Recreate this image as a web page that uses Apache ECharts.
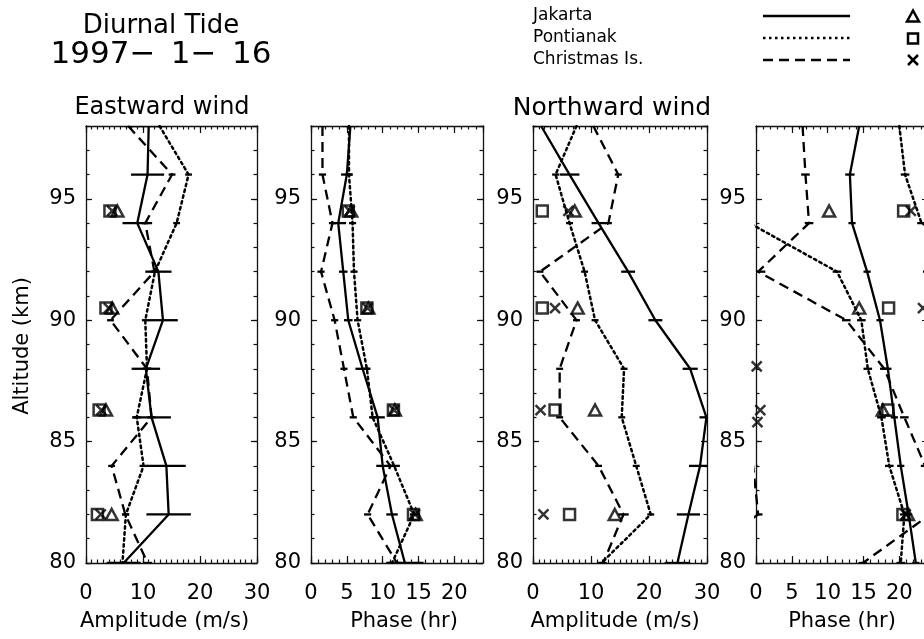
<!DOCTYPE html>
<html><head><meta charset="utf-8">
<script src="https://cdn.jsdelivr.net/npm/echarts@6/dist/echarts.min.js"></script>
<style>html,body{margin:0;padding:0;background:#fff}#c{width:924px;height:639px}</style>
</head><body><div id="c"></div>
<script>
// ---------- data ----------
const altitudes = [98, 96, 94, 92, 90, 88, 86, 84, 82, 80];
const symAlt = [94.5, 90.5, 86.3, 82.0];
const xTicksAmp = [0, 10, 20, 30];
const xTicksPha = [0, 5, 10, 15, 20];
const yTicks = [80, 85, 90, 95];

// Eastward wind amplitude (m/s)
const eAmpJak = [11.0, 10.8, 9.0, 12.7, 13.5, 10.5, 11.5, 14.1, 14.5, 6.6];
const eAmpJakErr = [3.0, 2.9, 2.6, 2.3, 2.6, 2.5, 3.4, 3.4, 3.9, 3.0];
const eAmpPon = [12.9, 18.0, 15.9, 12.1, 10.4, 10.7, 8.9, 10.1, 7.0, 6.4];
const eAmpPonErr = [0.6, 0.6, 0.6, 0.6, 0.6, 0.7, 0.7, 0.7, 0.6, 0.6];
const eAmpChr = [7.4, 15.1, 10.4, 12.0, 4.3, 10.7, 11.5, 4.5, 6.9, 10.8];
const eAmpChrErr = [0.7, 0.6, 0.6, 0.7, 0.6, 0.8, 0.7, 0.6, 0.6, 0.8];
const eAmpSymJak = [5.5, 4.6, 3.5, 4.5];
const eAmpSymPon = [4.2, 3.5, 2.3, 2.0];
const eAmpSymChr = [4.6, 4.0, 2.7, 2.6];

// Eastward wind phase (hr)
const ePhaJak = [5.5, 5.0, 3.8, 4.5, 5.2, 7.2, 9.3, 10.0, 11.3, 13.1];
const ePhaJakErr = [1.2, 0.8, 1.1, 0.6, 0.6, 1.0, 1.0, 0.9, 0.8, 2.6];
const ePhaPon = [5.3, 5.3, 5.8, 6.0, 6.5, 7.8, 8.6, 11.6, 14.4, 11.3];
const ePhaPonErr = [0.5, 0.5, 0.5, 0.5, 0.5, 0.5, 0.5, 0.8, 0.6, 0.5];
const ePhaChr = [1.6, 1.6, 3.0, 1.4, 3.3, 4.6, 5.9, 11.1, 7.9, 12.0];
const ePhaChrErr = [0.5, 0.5, 0.5, 0.5, 0.5, 0.5, 0.5, 0.5, 0.5, 0.5];
const ePhaSymJak = [5.6, 8.0, 11.7, 14.6];
const ePhaSymPon = [5.2, 7.8, 11.5, 14.3];
const ePhaSymChr = [5.4, 7.9, 11.6, 14.5];

// Northward wind amplitude (m/s)
const nAmpJak = [1.4, 6.3, 11.3, 16.4, 21.1, 27.1, 29.9, 28.8, 26.8, 24.9];
const nAmpJakErr = [1.4, 1.7, 1.2, 1.2, 1.2, 1.3, 1.2, 1.9, 2.0, 2.2];
const nAmpPon = [7.5, 3.9, 6.3, 8.9, 10.7, 15.7, 15.3, 17.8, 20.3, 11.8];
const nAmpPonErr = [0.6, 0.6, 0.6, 0.6, 0.6, 0.6, 0.6, 0.6, 0.6, 0.6];
const nAmpChr = [10.4, 14.7, 13.0, 1.2, 7.5, 4.6, 4.6, 11.3, 15.6, 12.1];
const nAmpChrErr = [0.6, 0.6, 0.6, 0.6, 0.6, 0.6, 0.6, 0.6, 0.9, 0.6];
const nAmpSymJak = [7.2, 7.7, 10.7, 14.1];
const nAmpSymPon = [1.6, 1.6, 3.8, 6.3];
const nAmpSymChr = [6.1, 3.8, 1.3, 1.8];

// Northward wind phase (hr), continuous across the 24 h wrap
const nPhaJak = [14.4, 13.1, 13.4, 15.5, 17.3, 18.4, 19.3, 20.2, 21.3, 22.3];
const nPhaJakErr = [0.5, 0.65, 0.5, 0.5, 0.5, 0.5, 0.5, 0.5, 0.5, 0.5];
const nPhaPon = [-4.0, -3.2, -0.9, 11.3, 14.7, 15.6, 17.5, 18.6, 20.7, 20.2];
const nPhaPonErr = [0.6, 0.6, 0.6, 0.6, 0.6, 0.6, 0.6, 0.6, 0.6, 0.6];
const nPhaChr = [6.5, 6.9, 7.4, 0.3, 12.6, 17.9, 20.7, 23.6, 24.3, 14.9];
const nPhaChrErr = [0.6, 0.6, 0.6, 1.0, 0.6, 0.6, 0.6, 0.6, 0.6, 0.6];
const nPhaSymJak = [10.2, 14.4, 17.7, 21.2];
const nPhaSymPon = [20.6, 18.5, 18.4, 20.5];
const nPhaSymChr = [21.6, 23.3, 0.6, 20.9];
const nPhaSymChrExtra = [[0.1, 88.1], [0.2, 85.8]];

const stations = ['Jakarta', 'Pontianak', 'Christmas Is.'];

// ---------- layout / style ----------
const FONT = 'DejaVu Sans';
const TOP = 126, HEIGHT = 437;
const panels = [
  {left: 86,  width: 171, max: 30, major: 10, ticks: xTicksAmp, wrap: false, name: 'Amplitude (m/s)', nameShift: -7,
   lines: [[eAmpJak, eAmpJakErr], [eAmpPon, eAmpPonErr], [eAmpChr, eAmpChrErr]], syms: [eAmpSymJak, eAmpSymPon, eAmpSymChr]},
  {left: 311, width: 172, max: 24, major: 5, ticks: xTicksPha, wrap: true, name: 'Phase (hr)', nameShift: 7,
   lines: [[ePhaJak, ePhaJakErr], [ePhaPon, ePhaPonErr], [ePhaChr, ePhaChrErr]], syms: [ePhaSymJak, ePhaSymPon, ePhaSymChr]},
  {left: 533, width: 174, max: 30, major: 10, ticks: xTicksAmp, wrap: false, name: 'Amplitude (m/s)', nameShift: -5,
   lines: [[nAmpJak, nAmpJakErr], [nAmpPon, nAmpPonErr], [nAmpChr, nAmpChrErr]], syms: [nAmpSymJak, nAmpSymPon, nAmpSymChr]},
  {left: 756, width: 172, max: 24, major: 5, ticks: xTicksPha, wrap: true, name: 'Phase (hr)', nameShift: 0,
   lines: [[nPhaJak, nPhaJakErr], [nPhaPon, nPhaPonErr], [nPhaChr, nPhaChrErr]], syms: [nPhaSymJak, nPhaSymPon, nPhaSymChr],
   extra: nPhaSymChrExtra}
];
const lineTypes = ['solid', [2.5, 3.5], [10, 6]];
const symbols = ['triangle', 'rect', 'path://M0,0L10,10M0,10L10,0'];
const symSizes = [[12, 11], 11, 10];

const grids = [], xAxes = [], yAxes = [], series = [], graphics = [];
const axisLineStyle = {show: true, lineStyle: {color: '#111', width: 1.3}};
const tickStyle = {color: '#111', width: 1.2};

panels.forEach((p, gi) => {
  grids.push({left: p.left, top: TOP, width: p.width, height: HEIGHT, outerBoundsMode: 'none', containLabel: false});
  const xBase = {gridIndex: gi, type: 'value', min: 0, max: p.max, splitLine: {show: false}};
  xAxes.push(Object.assign({}, xBase, {position: 'bottom', interval: p.major, axisLine: Object.assign({onZero: false}, axisLineStyle),
    axisTick: {inside: true, length: 7, lineStyle: tickStyle},
    axisLabel: {show: true, margin: 20, fontSize: 21, color: '#000', fontFamily: FONT,
      showMaxLabel: p.ticks.includes(p.max), showMinLabel: true,
      formatter: v => p.ticks.includes(v) ? String(v) : ''}}));
  xAxes.push(Object.assign({}, xBase, {position: 'bottom', interval: 1, axisLine: {show: false, onZero: false},
    axisTick: {inside: true, length: 3.5, lineStyle: tickStyle}, axisLabel: {show: false}}));
  xAxes.push(Object.assign({}, xBase, {position: 'top', interval: p.major, axisLine: Object.assign({onZero: false}, axisLineStyle),
    axisTick: {inside: true, length: 7, lineStyle: tickStyle}, axisLabel: {show: false}}));
  xAxes.push(Object.assign({}, xBase, {position: 'top', interval: 1, axisLine: {show: false, onZero: false},
    axisTick: {inside: true, length: 3.5, lineStyle: tickStyle}, axisLabel: {show: false}}));

  const yBase = {gridIndex: gi, type: 'value', min: 80, max: 98, splitLine: {show: false}};
  yAxes.push(Object.assign({}, yBase, {position: 'left', interval: 5, axisLine: Object.assign({onZero: false}, axisLineStyle),
    axisTick: {inside: true, length: 6, lineStyle: tickStyle},
    axisLabel: {show: true, margin: 10, fontSize: 21, color: '#000', fontFamily: FONT, showMaxLabel: false,
      formatter: v => yTicks.includes(v) ? String(v) : ''}}));
  yAxes.push(Object.assign({}, yBase, {position: 'left', interval: 1, axisLine: {show: false, onZero: false},
    axisTick: {inside: true, length: 3.5, lineStyle: tickStyle}, axisLabel: {show: false}}));
  yAxes.push(Object.assign({}, yBase, {position: 'right', interval: 5, axisLine: Object.assign({onZero: false}, axisLineStyle),
    axisTick: {inside: true, length: 6, lineStyle: tickStyle}, axisLabel: {show: false}}));
  yAxes.push(Object.assign({}, yBase, {position: 'right', interval: 1, axisLine: {show: false, onZero: false},
    axisTick: {inside: true, length: 3.5, lineStyle: tickStyle}, axisLabel: {show: false}}));

  const xi = gi * 4, yi = gi * 4;
  const offsets = p.wrap ? [-24, 0, 24] : [0];
  p.lines.forEach(([vals, errs], si) => {
    offsets.forEach(off => {
      series.push({
        type: 'line', name: stations[si], xAxisIndex: xi, yAxisIndex: yi, clip: true, silent: true,
        symbol: 'none', smooth: false, animation: false,
        lineStyle: {color: '#000', width: si === 1 ? 2.5 : 2.3, type: lineTypes[si], cap: si === 1 ? 'round' : 'butt'},
        data: altitudes.map((a, i) => [vals[i] + off, a])
      });
      series.push({
        type: 'custom', xAxisIndex: xi, yAxisIndex: yi, clip: true, silent: true, animation: false,
        encode: {x: 0, y: 1},
        data: altitudes.map((a, i) => [vals[i] + off, a, errs[i]]),
        renderItem: (params, api) => {
          const a1 = api.coord([api.value(0) - api.value(2), api.value(1)]);
          const a2 = api.coord([api.value(0) + api.value(2), api.value(1)]);
          return {type: 'line', shape: {x1: a1[0], y1: a1[1], x2: a2[0], y2: a2[1]},
                  style: {stroke: '#000', lineWidth: 2.3}};
        }
      });
    });
  });
  p.syms.forEach((vals, si) => {
    const pts = symAlt.map((a, i) => [vals[i], a]);
    if (si === 2 && p.extra) p.extra.forEach(e => pts.push(e));
    series.push({
      type: 'scatter', xAxisIndex: xi, yAxisIndex: yi, clip: true, silent: true, animation: false,
      symbol: symbols[si], symbolSize: symSizes[si],
      itemStyle: {color: 'rgba(0,0,0,0)', borderColor: '#000', borderWidth: 2.5},
      data: pts
    });
  });
  graphics.push({type: 'text', x: p.left + p.width / 2 + p.nameShift, y: 622,
    style: {text: p.name, fontSize: 21, fontFamily: FONT, fill: '#000', align: 'center', verticalAlign: 'middle',
            textAlign: 'center', textVerticalAlign: 'middle'}});
});

function txt(text, x, y, size, align) {
  return {type: 'text', x: x, y: y, style: {text: text, fontSize: size, fontFamily: FONT, fill: '#000',
    align: align || 'center', verticalAlign: 'middle', textAlign: align || 'center', textVerticalAlign: 'middle'}};
}
graphics.push(txt('Diurnal Tide', 161, 26, 26));
graphics.push(txt('1997\u2212\u20021\u2212\u200216', 161, 55, 31));
graphics.push(txt('Eastward wind', 162, 108, 24));
graphics.push(txt('Northward wind', 612, 108, 25));
graphics.push(Object.assign(txt('Altitude (km)', 23, 346, 21), {rotation: Math.PI / 2}));
// legend
const legY = [16, 38, 60];
stations.forEach((s, i) => {
  graphics.push(txt(s, 533, legY[i], 17, 'left'));
  graphics.push({type: 'line', shape: {x1: 763, y1: legY[i], x2: 850, y2: legY[i]},
    style: {stroke: '#000', lineWidth: 2.3, lineDash: i === 0 ? null : lineTypes[i]}});
});
graphics.push({type: 'polygon', shape: {points: [[913, 10.5], [919, 21.5], [907, 21.5]]}, style: {fill: 'none', stroke: '#000', lineWidth: 2.5}});
graphics.push({type: 'rect', shape: {x: 908, y: 33.5, width: 10, height: 10}, style: {fill: 'none', stroke: '#000', lineWidth: 2.5}});
graphics.push({type: 'line', shape: {x1: 908, y1: 55, x2: 918, y2: 65}, style: {stroke: '#000', lineWidth: 2.5}});
graphics.push({type: 'line', shape: {x1: 908, y1: 65, x2: 918, y2: 55}, style: {stroke: '#000', lineWidth: 2.5}});

const chart = echarts.init(document.getElementById('c'), null, {renderer: 'canvas'});
chart.setOption({
  animation: false,
  backgroundColor: '#fff',
  grid: grids,
  xAxis: xAxes,
  yAxis: yAxes,
  series: series,
  graphic: graphics
});
</script>
</body></html>
